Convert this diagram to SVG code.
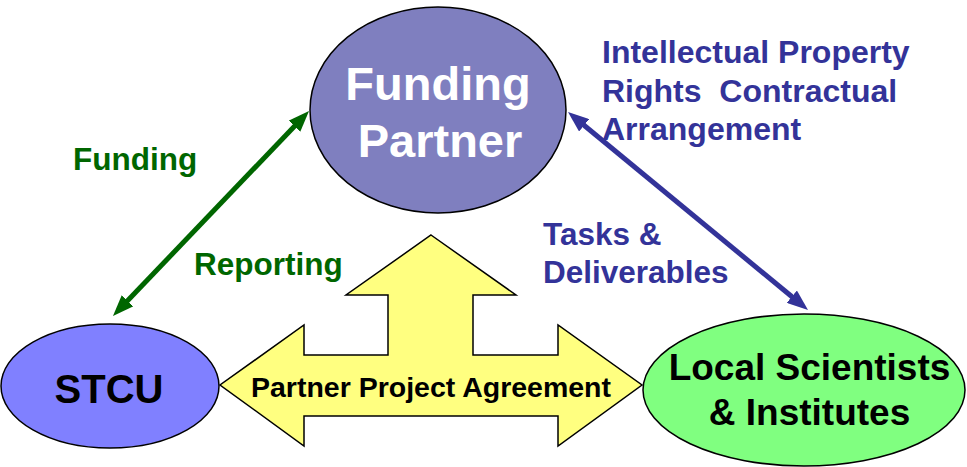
<svg xmlns="http://www.w3.org/2000/svg" width="967" height="467" viewBox="0 0 967 467">
<defs>
<style>
text{font-family:"Liberation Sans",Arial,sans-serif;font-weight:bold;text-anchor:middle}
.lbl{text-anchor:start;font-size:31.5px}
.ip{font-size:32px}
.g{fill:#006600}
.b{fill:#333399}
.node{stroke:#000;stroke-width:1.5}
</style>
<marker id="ag" markerUnits="userSpaceOnUse" markerWidth="22" markerHeight="16" refX="1" refY="8" orient="auto-start-reverse" viewBox="0 0 22 16"><path d="M0,0 L21,8 L0,16 z" fill="#006600"/></marker>
<marker id="ab" markerUnits="userSpaceOnUse" markerWidth="22" markerHeight="16" refX="1" refY="8" orient="auto-start-reverse" viewBox="0 0 22 16"><path d="M0,0 L21,8 L0,16 z" fill="#333399"/></marker>
</defs>
<rect width="967" height="467" fill="#fff"/>
<g id="connectors">
<line x1="126.8" y1="301.5" x2="295.2" y2="125.5" stroke="#006600" stroke-width="5" marker-start="url(#ag)" marker-end="url(#ag)"/>
<line x1="583.4" y1="124.7" x2="792.6" y2="297.3" stroke="#333399" stroke-width="5" marker-start="url(#ab)" marker-end="url(#ab)"/>
</g>
<g id="agreement">
<polygon points="431,235 516,295 473,295 473,355 558,355 558,325 642,385 558,446 558,416 304,416 304,446 220,385 304,325 304,355 388,355 388,295 346,295" fill="#ffff80" stroke="#000" stroke-width="1.5"/>
<text x="431" y="397" font-size="28.5">Partner Project Agreement</text>
</g>
<g id="funding-partner">
<ellipse class="node" cx="438" cy="110" rx="128" ry="103" fill="#7f7fbf"/>
<text x="438" y="100" font-size="47" fill="#fff">Funding</text>
<text x="440" y="157" font-size="47" fill="#fff">Partner</text>
</g>
<g id="stcu">
<ellipse class="node" cx="110" cy="386" rx="109" ry="62" fill="#8080ff"/>
<text x="109" y="403" font-size="40" fill="#000">STCU</text>
</g>
<g id="local">
<ellipse class="node" cx="804" cy="390" rx="161" ry="76" fill="#80ff80"/>
<text x="809.5" y="380" font-size="37" fill="#000">Local Scientists</text>
<text x="809.5" y="425" font-size="37" fill="#000">&amp; Institutes</text>
</g>
<g id="labels">
<text class="lbl g" x="73" y="170">Funding</text>
<text class="lbl g" x="194" y="275">Reporting</text>
<text class="lbl b ip" x="602" y="63">Intellectual Property</text>
<text class="lbl b ip" x="602" y="101.5" xml:space="preserve">Rights  Contractual</text>
<text class="lbl b ip" x="602" y="140">Arrangement</text>
<text class="lbl b" x="543" y="245">Tasks &amp;</text>
<text class="lbl b" x="543" y="283">Deliverables</text>
</g>
</svg>
